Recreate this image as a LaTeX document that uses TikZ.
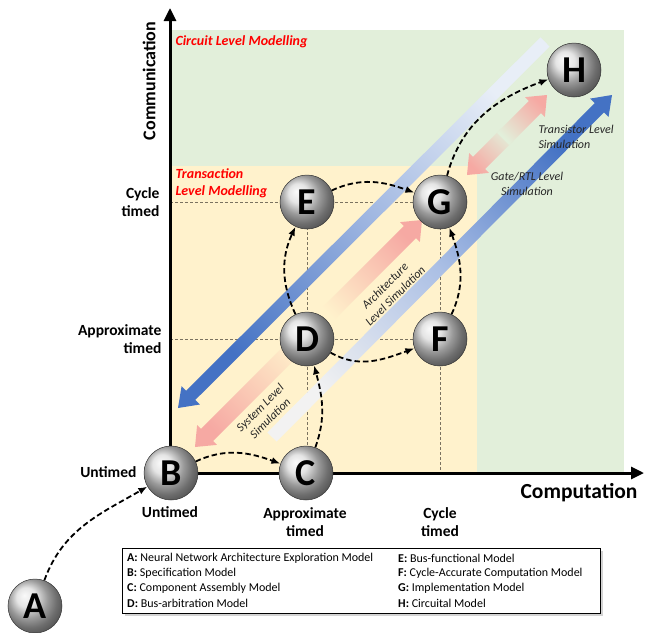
\documentclass[tikz,border=0pt]{standalone}
\usepackage{fontspec}
\setmainfont{Carlito}
\usetikzlibrary{calc,arrows.meta,shadows}
\definecolor{bggreen}{HTML}{E2EFDA}
\definecolor{bgyellow}{HTML}{FFF2CC}
\definecolor{bluedark}{HTML}{4472C4}
\definecolor{bluemid}{HTML}{9CB4E0}
\definecolor{bluelight}{HTML}{E8EEF7}
\definecolor{pinkc}{HTML}{F6A9A3}
\definecolor{gridc}{HTML}{7A7260}
\definecolor{redlab}{HTML}{FF0000}
\newcommand\blockarrow[6]{%
  \path ($(#2)!#5!(#1)$) coordinate (hb);
  \path[#6] ($(#1)!#3!90:(#2)$) -- ($(hb)!#3!90:(#2)$) -- ($(hb)!#4!90:(#2)$) -- (#2)
    -- ($(hb)!#4!-90:(#2)$) -- ($(hb)!#3!-90:(#2)$) -- ($(#1)!#3!-90:(#2)$) -- cycle;}
\tikzset{
  ballnode/.style={circle, minimum size=54pt, inner sep=0pt, ball color=gray!28,
    draw=gray!40!black, line width=0.5pt, font=\fontsize{38}{38}\selectfont\bfseries},
  flow/.style={dashed, dash pattern=on 5.5pt off 3pt, line width=1.8pt,
    -{Latex[length=9pt,width=7pt]}},
  gridline/.style={gridc, line width=0.9pt, dash pattern=on 3pt off 2pt},
  axislab/.style={font=\fontsize{15.5}{18}\selectfont\bfseries, align=center},
  redtxt/.style={redlab, font=\fontsize{14}{17}\selectfont\bfseries\itshape, align=left},
  diagtxt/.style={font=\fontsize{12}{14.5}\selectfont\itshape, align=center, text=black!85},
  legtxt/.style={font=\fontsize{12}{15}\selectfont, anchor=west, inner sep=0pt}
}
\begin{document}
\begin{tikzpicture}[x=1pt,y=-1pt]
\useasboundingbox (0,0) rectangle (645,632);
% backgrounds
\fill[bggreen] (170,30) rectangle (624,473);
\fill[bgyellow] (170,166) rectangle (477,473);
% grid
\draw[gridline] (170,202) -- (440,202);
\draw[gridline] (170,339) -- (440,339);
\draw[gridline] (307,202) -- (307,473);
\draw[gridline] (440,202) -- (440,473);
% pink arrows
\blockarrow{308,334}{195,447}{8.5pt}{14pt}{17pt}{top color=bgyellow, bottom color=pinkc, shading angle=-45}
\blockarrow{318,324}{422,220}{8.5pt}{14pt}{17pt}{top color=pinkc, bottom color=bgyellow, shading angle=-45}
\blockarrow{509,133}{467,175}{8.5pt}{14pt}{17pt}{top color=bggreen, bottom color=pinkc, shading angle=-45}
\blockarrow{503,139}{547,95}{8.5pt}{14pt}{17pt}{top color=pinkc, bottom color=bggreen, shading angle=-45}
% blue arrows
\blockarrow{545,42}{178,408}{6.5pt}{13pt}{18pt}{top color=bluelight, bottom color=bluedark, middle color=bluemid, shading angle=-45}
\blockarrow{272,437}{612,95}{6.5pt}{13pt}{18pt}{top color=bluedark, bottom color=gray!10, middle color=bluemid!85, shading angle=-45}
% axes
\coordinate (orig) at (170,473);
\coordinate (ytip) at (170,8);
\coordinate (xtip) at (644,473);
\draw[line width=3pt, -{Triangle[length=13pt,width=12pt]}] (orig) -- (ytip);
\draw[line width=3pt, -{Triangle[length=13pt,width=12pt]}] (orig) -- (xtip);
% axis labels
\node[font=\fontsize{18}{18}\selectfont\bfseries, rotate=90] (ylab) at (149,81) {Communication};
\node[font=\fontsize{21.5}{22}\selectfont\bfseries] (xlab) at (579,493) {Computation};
\node[axislab, anchor=east, align=right] (lct) at (163,202) {Cycle\\timed};
\node[axislab, anchor=east, align=right] (lat) at (165,339) {Approximate\\timed};
\node[axislab, anchor=east] (lut) at (140,472) {Untimed};
\node[axislab] (but) at (170,512) {Untimed};
\node[axislab] (bat) at (305,522) {Approximate\\timed};
\node[axislab] (bct) at (440,522) {Cycle\\timed};
% region labels
\node[redtxt, anchor=west] (clm) at (172,42) {Circuit Level Modelling};
\node[redtxt, anchor=west] (tlm) at (172,183) {Transaction\\Level Modelling};
% diagonal labels
\node[diagtxt, rotate=45] (sls) at (265,413) {System Level\\Simulation};
\node[diagtxt, rotate=45] (als) at (390,291) {Architecture\\Level Simulation};
\node[diagtxt] (grs) at (527,184) {Gate/RTL Level\\Simulation};
\node[diagtxt, anchor=west, align=left] (tls) at (535,137) {Transistor Level\\Simulation};
% balls
\node[ballnode] (A) at (35,606) {A};
\node[ballnode] (B) at (171,473) {B};
\node[ballnode] (C) at (306,473) {C};
\node[ballnode] (D) at (307,339) {D};
\node[ballnode] (E) at (307,202) {E};
\node[ballnode] (F) at (440,339) {F};
\node[ballnode] (G) at (440,202) {G};
\node[ballnode] (H) at (574,70) {H};
% connectors
\draw[flow] (A) to[out=70, in=210] (B);
\draw[flow] (B) to[out=25, in=160] (C);
\draw[flow] (C) to[out=70, in=-75] (D);
\draw[flow] (D) to[out=115, in=-115] (E);
\draw[flow] (D) to[out=-30, in=200] (F);
\draw[flow] (E) to[out=25, in=160] (G);
\draw[flow] (F) to[out=65, in=-70] (G);
\draw[flow] (G) to[out=75, in=200] (H);
% legend
\node[draw=black, line width=1pt, fill=white, minimum width=478pt, minimum height=65pt,
  anchor=north west, inner sep=0pt, drop shadow={shadow xshift=2pt, shadow yshift=-2.5pt, opacity=0.35}]
  (leg) at (122,548) {};
\node[legtxt] (la) at (127,558) {\textbf{A:} Neural Network Architecture Exploration Model};
\node[legtxt] (lb) at (127,573) {\textbf{B:} Specification Model};
\node[legtxt] (lc) at (127,588) {\textbf{C:} Component Assembly Model};
\node[legtxt] (ld) at (127,603) {\textbf{D:} Bus-arbitration Model};
\node[legtxt] (le) at (398,558) {\textbf{E:} Bus-functional Model};
\node[legtxt] (lf) at (398,573) {\textbf{F:} Cycle-Accurate Computation Model};
\node[legtxt] (lg) at (398,588) {\textbf{G:} Implementation Model};
\node[legtxt] (lh) at (398,603) {\textbf{H:} Circuital Model};
\end{tikzpicture}
\end{document}
